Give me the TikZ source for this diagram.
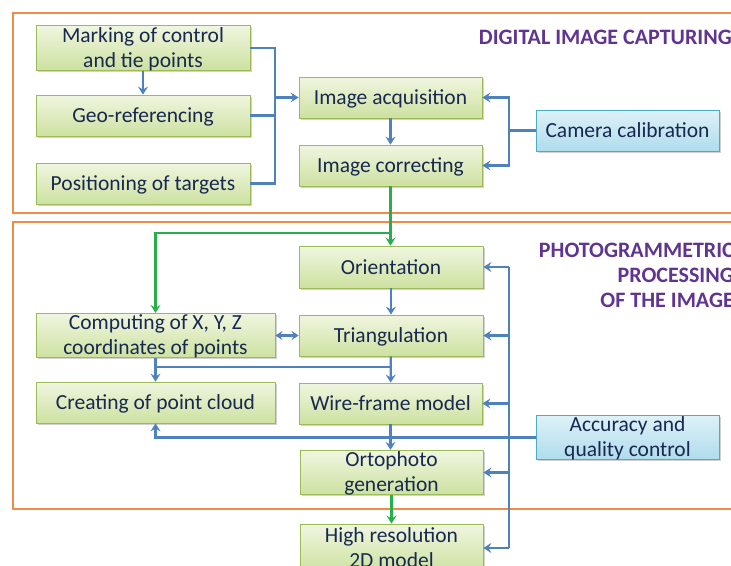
\documentclass[tikz,border=0pt]{standalone}
\usepackage{fontspec}
\setmainfont{Carlito}
\usetikzlibrary{shadows,arrows.meta}
\definecolor{gborder}{RGB}{155,187,89}
\definecolor{gtop}{RGB}{240,246,224}
\definecolor{gbot}{RGB}{205,225,160}
\definecolor{bborder}{RGB}{75,172,198}
\definecolor{btop}{RGB}{222,241,248}
\definecolor{bbot}{RGB}{175,220,236}
\definecolor{txt}{RGB}{25,40,80}
\definecolor{lblue}{RGB}{79,129,189}
\definecolor{lgreen}{RGB}{40,175,75}
\definecolor{frame}{RGB}{240,140,70}
\definecolor{ttl}{RGB}{96,52,145}
\begin{document}
\begin{tikzpicture}[x=1pt,y=-1pt,
  box/.style={line width=0.8pt, text=txt, font=\fontsize{21.5}{25}\selectfont,
    align=center, inner sep=0pt,
    drop shadow={opacity=0.35, shadow xshift=1.5pt, shadow yshift=-1.5pt}},
  gbox/.style={box, draw=gborder, top color=gtop, bottom color=gbot},
  bbox/.style={box, draw=bborder, top color=btop, bottom color=bbot},
  oneline/.style={text height=17pt, text depth=3pt},
  twoline/.style={text height=41.5pt, text depth=3pt},
  bl/.style={draw=lblue, line width=2.2pt},
  gr/.style={draw=lgreen, line width=2.4pt},
  arr/.style={-{Stealth[length=8pt,width=10pt,inset=3pt]}},
  darr/.style={{Stealth[length=7pt,width=9pt,inset=2.5pt]}-{Stealth[length=7pt,width=9pt,inset=2.5pt]}},
  ttlstyle/.style={text=ttl, font=\fontsize{22}{25}\bfseries\selectfont, align=right, inner sep=0pt, anchor=east}
]
\useasboundingbox (0,0) rectangle (731,565);
\clip (0,0) rectangle (731,565);
\fill[white] (0,0) rectangle (731,565);

% frames
\draw[frame, line width=2pt] (13,13) rectangle (760,213);
\draw[frame, line width=2pt] (13,222) rectangle (760,509);

% titles
\node[ttlstyle] (t1) at (732,37) {DIGITAL IMAGE CAPTURING};
\node[ttlstyle] (t2) at (734,275) {PHOTOGRAMMETRIC\\PROCESSING\\OF THE IMAGE};

% boxes
\node[gbox, twoline, minimum width=214pt, minimum height=42pt] (mark) at (143,48) {Marking of control\\and tie points};
\node[gbox, oneline, minimum width=214pt, minimum height=41pt] (geo) at (143,115.5) {Geo-referencing};
\node[gbox, oneline, minimum width=214pt, minimum height=41pt] (pos) at (143,183.5) {Positioning of targets};
\node[gbox, oneline, minimum width=183pt, minimum height=41pt] (acq) at (390.5,97.5) {Image acquisition};
\node[gbox, oneline, minimum width=183pt, minimum height=41pt] (corr) at (390.5,165.5) {Image correcting};
\node[bbox, oneline, minimum width=183pt, minimum height=41pt] (cam) at (627.5,130.5) {Camera calibration};
\node[gbox, oneline, minimum width=184pt, minimum height=42pt] (ori) at (391,267) {Orientation};
\node[gbox, oneline, minimum width=184pt, minimum height=41pt] (tri) at (391,335.5) {Triangulation};
\node[gbox, twoline, minimum width=239pt, minimum height=41pt] (comp) at (155.5,335.5) {Computing of X, Y, Z\\coordinates of points};
\node[gbox, oneline, minimum width=239pt, minimum height=41pt] (cloud) at (155.5,402.5) {Creating of point cloud};
\node[gbox, oneline, minimum width=183pt, minimum height=41pt] (wire) at (390.5,403.5) {Wire-frame model};
\node[bbox, twoline, minimum width=183pt, minimum height=41pt] (acc) at (627.5,437.5) {Accuracy and\\quality control};
\node[gbox, twoline, minimum width=183pt, minimum height=41pt] (orto) at (391.5,472.5) {Ortophoto\\generation};
\node[gbox, twoline, minimum width=183pt, minimum height=48pt] (high) at (391.5,548) {High resolution\\2D model};

% junctions
\coordinate (jL) at (275,97.5);
\coordinate (jC) at (509,130.5);
\coordinate (gJ) at (390.5,233);
\coordinate (tJ) at (391,367);
\coordinate (aJ) at (509,437.5);

% top section connectors
\draw[bl] (mark.east) -| (jL);
\draw[bl] (geo.east) -| (jL);
\draw[bl] (pos.east) -| (jL);
\draw[bl,arr] (jL) -- (acq.west);
\draw[bl,arr] (mark) -- (geo);
\draw[bl,arr] (acq) -- (corr);
\draw[bl] (cam.west) -- (jC);
\draw[bl,arr] (jC) |- (acq.east);
\draw[bl,arr] (jC) |- (corr.east);

% green links
\draw[gr,arr] (corr.south) -- (corr.south |- ori.north);
\draw[gr,arr] (gJ) -| (comp.north);

% processing section
\draw[bl,arr] (ori) -- (tri);
\draw[bl,darr] (comp.east) -- (tri.west);
\draw[bl,arr] (tri) -- (wire);
\draw[bl] (tJ) -- (tJ -| comp.south);
\draw[bl,arr] (comp) -- (cloud);
\draw[bl,arr] (wire.south) -- (wire.south |- orto.north);
\draw[gr,arr] (orto.south) -- (high.north);

\draw[bl] (acc.west) -- (aJ);
\draw[bl] (aJ |- ori.east) -- (aJ |- high.east);
\draw[bl,arr] (aJ |- ori.east) -- (ori.east);
\draw[bl,arr] (aJ |- tri.east) -- (tri.east);
\draw[bl,arr] (aJ |- wire.east) -- (wire.east);
\draw[bl,arr] (aJ |- orto.east) -- (orto.east);
\draw[bl,arr] (aJ |- high.east) -- (high.east);
\draw[bl,arr] (aJ) -| (cloud.south);
\end{tikzpicture}
\end{document}
